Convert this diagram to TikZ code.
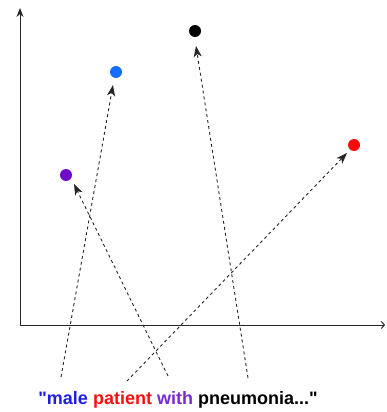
\documentclass[tikz,border=0pt]{standalone}
\usepackage{fontspec}
\setmainfont{Liberation Sans}
\newfontfamily\plainsans{Liberation Sans}
\usetikzlibrary{arrows.meta}
\definecolor{cblue}{RGB}{20,110,255}
\definecolor{cpurple}{RGB}{110,10,200}
\definecolor{cred}{RGB}{250,10,10}
\definecolor{tblue}{RGB}{30,30,225}
\definecolor{tpurple}{RGB}{120,40,215}
\definecolor{tred}{RGB}{250,15,15}
\begin{document}
\begin{tikzpicture}[x=1pt,y=-1pt,
  dot/.style={circle,fill=#1,inner sep=0pt,minimum size=12pt},
  link/.style={draw=black!85,dashed,dash pattern=on 3pt off 3pt,line width=0.9pt,
    -{Stealth[length=11pt,width=8pt,inset=3pt]}},
  axis/.style={draw=black!85,line width=1pt}]
\useasboundingbox (0,0) rectangle (386,412);
% axes
\coordinate (o) at (20,325);
\coordinate (ytop) at (20,8);
\coordinate (xend) at (385,325);
\draw[axis,-{Stealth[length=9pt,width=7pt]}] (o) -- (ytop);
\draw[axis,-{Straight Barb[length=3pt,width=7pt]}] (o) -- (xend);
% dots
\node[dot=cblue] (blue) at (116,72) {};
\node[dot=black] (black) at (195,31) {};
\node[dot=cpurple] (purple) at (66,175) {};
\node[dot=cred] (red) at (354,145) {};
% starts
\coordinate (sblue) at (61,377);
\coordinate (sred) at (127,381);
\coordinate (spurple) at (168,376);
\coordinate (sblack) at (248,378);
\draw[link] (sblue) -- (113,85);
\draw[link] (sblack) -- (196,46);
\draw[link] (spurple) -- (74,184);
\draw[link] (sred) -- (347,153);
% text
\node[font=\plainsans\bfseries\fontsize{18}{20}\selectfont,anchor=base] (txt) at (178,404)
  {\textcolor{tblue}{"male} \textcolor{tred}{patient} \textcolor{tpurple}{with} pneumonia..."};
\end{tikzpicture}
\end{document}
